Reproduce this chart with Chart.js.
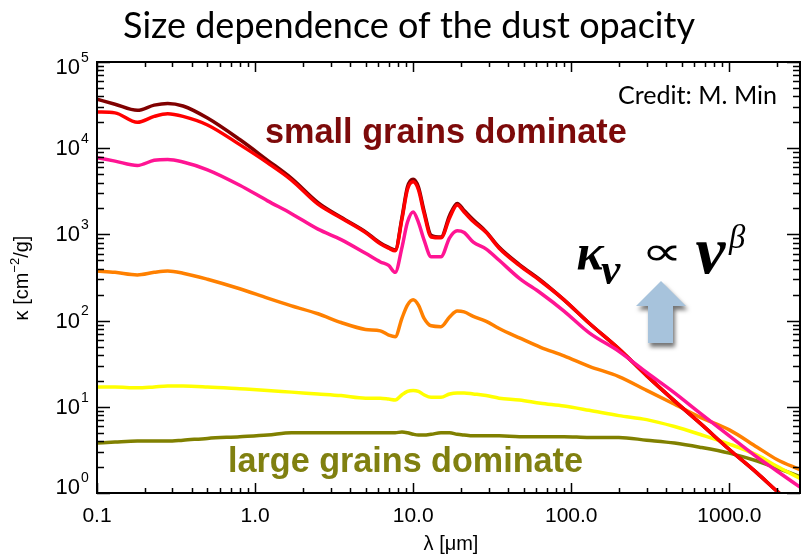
<!DOCTYPE html>
<html>
<head>
<meta charset="utf-8">
<script src="https://cdn.jsdelivr.net/npm/chart.js@4.4.1/dist/chart.umd.min.js"></script>
<style>
  html, body { margin: 0; padding: 0; background: #fff; }
  canvas { display: block; }
</style>
</head>
<body>
<canvas id="opacityChart" width="803" height="554"></canvas>
<script>
// Size dependence of the dust opacity (log-log)

const wavelength = [0.1, 0.13, 0.18, 0.23, 0.28, 0.35, 0.5, 0.8, 1.2, 1.7, 2.5, 3.5, 5, 6.2, 7, 7.7,
    8.5, 9.2, 10, 10.8, 11.7, 13, 15, 17, 19, 21, 24, 29, 35, 47, 64, 90, 130, 200, 300, 450,
    650, 1000, 1500, 2000, 2800];

const kappaMaroon = [37000, 32400, 27500, 31600, 33100, 30900, 22400, 12600, 7240, 4470, 2340, 1580,
    1070, 794, 708, 661, 1580, 3550, 4370, 3550, 1900, 977, 933, 1660, 2290, 1900, 1480, 1070, 708,
    447, 295, 174, 93, 47, 23, 11.7, 6.5, 3.2, 1.7, 1.05, 0.62];
const kappaRed = [26300, 25700, 20000, 23400, 25100, 23400, 18600, 11000, 6760, 4270, 2240, 1550,
    1050, 776, 692, 646, 1510, 3310, 4070, 3310, 1780, 933, 912, 1550, 2190, 1820, 1410, 1050, 692,
    437, 288, 174, 93, 47, 23, 11.7, 6.5, 3.2, 1.7, 1.05, 0.62];
const kappaPink = [7760, 7080, 6310, 7240, 7410, 6920, 5620, 3720, 2450, 1740, 1150, 871, 603, 479,
    437, 363, 708, 1380, 1820, 1380, 871, 550, 550, 912, 1100, 1050, 813, 676, 501, 309, 209, 129,
    72, 44, 25, 14.5, 8.5, 4.6, 2.6, 1.8, 1.17];
const kappaOrange = [376, 363, 339, 363, 376, 355, 302, 234, 182, 148, 120, 95, 79, 76, 68, 65, 107,
    151, 174, 151, 107, 87, 85, 110, 129, 126, 112, 98, 81, 63, 49, 39, 29.5, 22.4, 15.5, 10.7, 7.6,
    5.4, 3.4, 2.45, 1.86];
const kappaYellow = [17.0, 17.0, 16.6, 17.0, 17.4, 17.4, 17.0, 16.2, 15.5, 14.8, 14.1, 13.5, 12.6,
    12.6, 12.3, 12.0, 13.8, 15.1, 15.5, 15.1, 13.8, 12.9, 12.9, 14.1, 14.5, 14.5, 14.1, 13.5, 12.6,
    12.0, 11.0, 10.2, 9.1, 7.9, 7.1, 5.9, 4.8, 3.7, 2.75, 2.04, 1.48];
const kappaOlive = [3.8, 3.9, 4.0, 4.0, 4.0, 4.1, 4.3, 4.5, 4.7, 5.0, 5.0, 5.0, 5.0, 5.0, 5.0, 5.0,
    5.1, 5.0, 4.8, 4.7, 4.7, 4.8, 5.0, 5.0, 4.8, 4.7, 4.6, 4.6, 4.6, 4.5, 4.5, 4.5, 4.4, 4.4, 4.1,
    3.8, 3.4, 2.9, 2.35, 1.95, 1.55];

const xTickValues = [0.1, 1, 10, 100, 1000];
const xTickLabels = ['0.1', '1.0', '10.0', '100.0', '1000.0'];
const yTickExponents = [0, 1, 2, 3, 4, 5];

function toPoints(values) {
    return wavelength.map((w, i) => ({ x: w, y: values[i] }));
}

function series(values, color, order) {
    return {
        data: toPoints(values),
        borderColor: color,
        backgroundColor: color,
        borderWidth: 3.5,
        pointRadius: 0,
        cubicInterpolationMode: 'monotone',
        clip: 0,
        order: order
    };
}

// draws text scaled so it fills a given width
function fitText(ctx, text, left, baseline, width, style, family) {
    ctx.font = style + ' 40px ' + family;
    const size = 40 * width / ctx.measureText(text).width;
    ctx.font = style + ' ' + size.toFixed(2) + 'px ' + family;
    ctx.textAlign = 'left';
    ctx.textBaseline = 'alphabetic';
    ctx.fillText(text, left, baseline);
}

// draws a glyph so its ink box has the given width and is centred on (cx, cy)
function fitGlyph(ctx, text, cx, cy, width, style, family) {
    ctx.textAlign = 'left';
    ctx.textBaseline = 'alphabetic';
    ctx.font = style + ' 100px ' + family;
    let m = ctx.measureText(text);
    const size = 100 * width / (m.actualBoundingBoxRight + m.actualBoundingBoxLeft);
    ctx.font = style + ' ' + size.toFixed(2) + 'px ' + family;
    m = ctx.measureText(text);
    const w = m.actualBoundingBoxRight + m.actualBoundingBoxLeft;
    const h = m.actualBoundingBoxAscent + m.actualBoundingBoxDescent;
    ctx.fillText(text, cx - w / 2 + m.actualBoundingBoxLeft, cy + h / 2 - m.actualBoundingBoxDescent);
}

const idlAxes = {
    id: 'idlAxes',
    afterDatasetsDraw(chart) {
        const { ctx, chartArea: a, scales: { x, y } } = chart;
        ctx.save();
        ctx.strokeStyle = '#000';
        ctx.lineWidth = 1.5;
        ctx.beginPath();
        // x ticks, bottom and top, pointing inward
        for (let e = -1; e <= 3; e++) {
            for (let m = 1; m <= 9; m++) {
                const v = m * Math.pow(10, e);
                if (v > x.max) break;
                const px = Math.round(x.getPixelForValue(v)) + 0.5;
                const len = m === 1 ? 10 : 5;
                ctx.moveTo(px, a.bottom); ctx.lineTo(px, a.bottom - len);
                ctx.moveTo(px, a.top); ctx.lineTo(px, a.top + len);
            }
        }
        // y ticks, left and right
        for (let e = 0; e <= 5; e++) {
            for (let m = 1; m <= 9; m++) {
                if (e === 5 && m > 1) break;
                const py = Math.round(y.getPixelForValue(m * Math.pow(10, e))) + 0.5;
                const len = m === 1 ? 13 : 7;
                ctx.moveTo(a.left, py); ctx.lineTo(a.left + len, py);
                ctx.moveTo(a.right, py); ctx.lineTo(a.right - len, py);
            }
        }
        ctx.stroke();
        ctx.lineWidth = 2;
        ctx.strokeRect(a.left, a.top, a.right - a.left, a.bottom - a.top);

        // tick labels
        ctx.fillStyle = '#000';
        ctx.font = '21px "Liberation Sans", Arial, sans-serif';
        ctx.textAlign = 'center';
        ctx.textBaseline = 'middle';
        xTickValues.forEach((v, i) => {
            ctx.fillText(xTickLabels[i], x.getPixelForValue(v), a.bottom + 23);
        });
        yTickExponents.forEach(e => {
            let py = y.getPixelForValue(Math.pow(10, e));
            py = Math.min(Math.max(py, a.top + 5), a.bottom - 6);
            ctx.font = '22px "Liberation Sans", Arial, sans-serif';
            ctx.textAlign = 'right';
            ctx.textBaseline = 'middle';
            ctx.fillText('10', 80, py + 1);
            ctx.font = '14px "Liberation Sans", Arial, sans-serif';
            ctx.textAlign = 'left';
            ctx.fillText(String(e), 81, py - 9);
        });

        // axis titles
        ctx.font = '20px "Liberation Sans", Arial, sans-serif';
        ctx.textAlign = 'center';
        ctx.textBaseline = 'middle';
        ctx.fillText('\u03bb [\u03bcm]', 451, 544);

        ctx.save();
        ctx.translate(22, 278);
        ctx.rotate(-Math.PI / 2);
        const partA = '\u03ba [cm', partB = '\u22122', partC = '/g]';
        ctx.font = '20px "Liberation Sans", Arial, sans-serif';
        const wA = ctx.measureText(partA).width, wC = ctx.measureText(partC).width;
        ctx.font = '13px "Liberation Sans", Arial, sans-serif';
        const wB = ctx.measureText(partB).width;
        let cx = -(wA + wB + wC) / 2;
        ctx.textAlign = 'left';
        ctx.font = '20px "Liberation Sans", Arial, sans-serif';
        ctx.fillText(partA, cx, 0); cx += wA;
        ctx.font = '13px "Liberation Sans", Arial, sans-serif';
        ctx.fillText(partB, cx, -7); cx += wB;
        ctx.font = '20px "Liberation Sans", Arial, sans-serif';
        ctx.fillText(partC, cx, 0);
        ctx.restore();

        ctx.restore();
    },
    afterDraw(chart) {
        const ctx = chart.ctx;
        ctx.save();
        ctx.fillStyle = '#000';
        fitText(ctx, 'Size dependence of the dust opacity', 123, 38, 572, 'normal', 'Lato, "Open Sans", sans-serif');
        fitText(ctx, 'Credit: M. Min', 618, 104, 159, 'normal', 'Lato, "Open Sans", sans-serif');

        ctx.fillStyle = '#7d0a0a';
        fitText(ctx, 'small grains dominate', 265, 143, 362, 'bold', '"Liberation Sans", Arial, sans-serif');
        ctx.fillStyle = '#808010';
        fitText(ctx, 'large grains dominate', 228, 472, 355, 'bold', '"Liberation Sans", Arial, sans-serif');

        // kappa_nu ∝ nu^beta
        ctx.fillStyle = '#000';
        const serif = '"Liberation Serif", "DejaVu Serif", serif';
        fitGlyph(ctx, '\u03ba', 591, 258, 27, 'italic bold', serif);
        fitGlyph(ctx, '\u03bd', 611, 274, 20, 'italic bold', serif);
        ctx.font = '40px "DejaVu Sans", sans-serif';
        ctx.save();
        ctx.translate(662, 255);
        ctx.scale(1.45, 1.0);
        ctx.textAlign = 'center';
        ctx.textBaseline = 'middle';
        ctx.fillText('\u221d', 0, 0);
        ctx.restore();
        fitGlyph(ctx, '\u03bd', 711, 258, 31, 'italic bold', serif);
        fitGlyph(ctx, '\u03b2', 737, 239, 17, 'italic', serif);

        // arrow
        ctx.shadowColor = 'rgba(0,0,0,0.55)';
        ctx.shadowBlur = 4;
        ctx.shadowOffsetX = 2;
        ctx.shadowOffsetY = 4;
        ctx.fillStyle = '#a7c3dc';
        ctx.beginPath();
        ctx.moveTo(661, 281);
        ctx.lineTo(686, 306);
        ctx.lineTo(673, 306);
        ctx.lineTo(673, 343);
        ctx.lineTo(648, 343);
        ctx.lineTo(648, 306);
        ctx.lineTo(636, 306);
        ctx.closePath();
        ctx.fill();
        ctx.restore();
    }
};

new Chart(document.getElementById('opacityChart'), {
    type: 'line',
    data: {
        datasets: [
            series(kappaMaroon, '#800000', 2),
            series(kappaRed, '#ff0000', 1),
            series(kappaPink, '#ff1493', 0),
            series(kappaOrange, '#ff8000', 3),
            series(kappaYellow, '#ffff00', 4),
            series(kappaOlive, '#808000', 5)
        ]
    },
    options: {
        responsive: false,
        animation: false,
        layout: { padding: { left: 97, right: 3, top: 62, bottom: 61 } },
        plugins: {
            legend: { display: false },
            tooltip: { enabled: false },
            title: { display: false }
        },
        scales: {
            x: {
                type: 'logarithmic',
                min: 0.1,
                max: 2800,
                ticks: { display: false },
                grid: { display: false },
                border: { display: false },
                afterFit: s => { s.height = 0; }
            },
            y: {
                type: 'logarithmic',
                min: 1,
                max: 100000,
                ticks: { display: false },
                grid: { display: false },
                border: { display: false },
                afterFit: s => { s.width = 0; }
            }
        }
    },
    plugins: [idlAxes]
});
</script>
</body>
</html>
